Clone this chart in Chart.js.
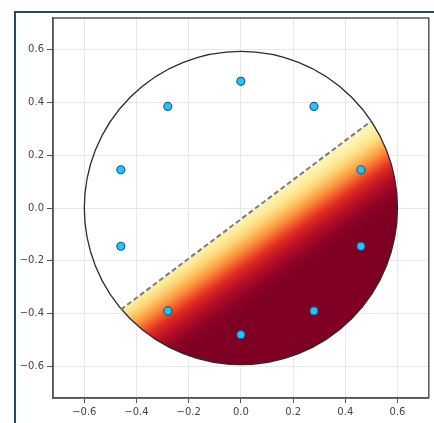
<!DOCTYPE html>
<html lang="en">
<head>
  <meta charset="UTF-8">
  <title>Circle with shaded segment</title>
  <script src="https://cdn.jsdelivr.net/npm/chart.js"></script>
  <style>
    body {
      margin: 0;
      background: #fff;
    }

    #frame {
      position: absolute;
      left: 14px;
      top: 11px;
      width: 420px;
      height: 412px;
      border-left: 2px solid #1f4a69;
      border-top: 2px solid #1f4a69;
    }

    #chart {
      position: absolute;
      left: 0;
      top: 0;
    }
  </style>
</head>
<body>

<div id="frame"></div>
<canvas id="chart" width="434" height="423"></canvas>

<script>
  // Points on the inner ring
  const pointX = [0.0, 0.28, 0.46, 0.46, 0.28, 0.0, -0.28, -0.46, -0.46, -0.28];
  const pointY = [0.48, 0.385, 0.145, -0.145, -0.39, -0.48, -0.39, -0.145, 0.145, 0.385];

  // Outer circle
  const circleCenter = [0.0, 0.0];
  const circleRadius = 0.6;

  // Dashed chord (start, end) - shading is on the lower right side
  const chordX = [-0.46, 0.50];
  const chordY = [-0.385, 0.33];

  // Axis ticks
  const xTicks = [-0.6, -0.4, -0.2, 0.0, 0.2, 0.4, 0.6];
  const yTicks = [-0.6, -0.4, -0.2, 0.0, 0.2, 0.4, 0.6];
  const axisMin = -0.72;
  const axisMax = 0.72;

  // YlOrRd-ish colour stops, by distance from chord (data units)
  const shadeDist = [0.0, 0.03, 0.055, 0.08, 0.105, 0.13, 0.16, 0.2, 0.25, 0.3];
  const shadeColors = ['#fff4b5', '#feea98', '#fed577', '#fdb456', '#fc8c3c', '#f45a2c', '#dd2a22', '#b80f26', '#8e0326', '#7f0022'];
  const shadeTiltDeg = 2; // colour bands are a touch steeper than the chord

  function fmtTick(v) {
    const s = v.toFixed(1);
    return s.startsWith('-') ? '\u2212' + s.slice(1) : s;
  }

  const shapePlugin = {
    id: 'shape',
    beforeDatasetsDraw(chart) {
      const { ctx, chartArea, scales: { x, y } } = chart;
      const cx = x.getPixelForValue(circleCenter[0]);
      const cy = y.getPixelForValue(circleCenter[1]);
      const r = x.getPixelForValue(circleRadius) - x.getPixelForValue(0);

      const ax = x.getPixelForValue(chordX[0]), ay = y.getPixelForValue(chordY[0]);
      const bx = x.getPixelForValue(chordX[1]), by = y.getPixelForValue(chordY[1]);
      const len = Math.hypot(bx - ax, by - ay);
      const ux = (bx - ax) / len, uy = (by - ay) / len;
      // normal pointing to lower right (screen coords)
      const nx = -uy, ny = ux;
      const unitPx = x.getPixelForValue(1) - x.getPixelForValue(0);

      ctx.save();
      ctx.beginPath();
      ctx.arc(cx, cy, r, 0, Math.PI * 2);
      ctx.clip();
      const big = 2000;
      ctx.beginPath();
      ctx.moveTo(ax - ux * big, ay - uy * big);
      ctx.lineTo(bx + ux * big, by + uy * big);
      ctx.lineTo(bx + ux * big + nx * big, by + uy * big + ny * big);
      ctx.lineTo(ax - ux * big + nx * big, ay - uy * big + ny * big);
      ctx.closePath();
      ctx.clip();

      const t = shadeTiltDeg * Math.PI / 180;
      const gx = nx * Math.cos(t) - ny * Math.sin(t);
      const gy = nx * Math.sin(t) + ny * Math.cos(t);
      const mx = (ax + bx) / 2, my = (ay + by) / 2;
      const maxD = shadeDist[shadeDist.length - 1];
      const grad = ctx.createLinearGradient(mx, my, mx + gx * maxD * unitPx, my + gy * maxD * unitPx);
      shadeDist.forEach((d, i) => grad.addColorStop(d / maxD, shadeColors[i]));
      ctx.fillStyle = grad;
      ctx.fillRect(chartArea.left, chartArea.top, chartArea.width, chartArea.height);
      ctx.restore();

      // circle outline
      ctx.save();
      ctx.beginPath();
      ctx.arc(cx, cy, r, 0, Math.PI * 2);
      ctx.strokeStyle = '#2b2b2b';
      ctx.lineWidth = 1.3;
      ctx.stroke();

      // dashed chord
      ctx.beginPath();
      ctx.moveTo(ax, ay);
      ctx.lineTo(bx, by);
      ctx.setLineDash([5, 3]);
      ctx.strokeStyle = '#7a7a7a';
      ctx.lineWidth = 2;
      ctx.stroke();
      ctx.restore();
    },
    afterDraw(chart) {
      const { ctx, chartArea } = chart;
      ctx.save();
      ctx.strokeStyle = '#555';
      ctx.lineWidth = 1.5;
      ctx.strokeRect(chartArea.left, chartArea.top, chartArea.width, chartArea.height);
      ctx.restore();
    }
  };

  const ctx = document.getElementById('chart').getContext('2d');
  const chart = new Chart(ctx, {
    type: 'scatter',
    data: {
      datasets: [{
        data: pointX.map((v, i) => ({ x: v, y: pointY[i] })),
        backgroundColor: '#22c6f2',
        borderColor: '#1a5c9a',
        borderWidth: 1.2,
        pointRadius: 4
      }]
    },
    options: {
      responsive: false,
      animation: false,
      layout: { padding: { top: 18, right: 2, left: 0, bottom: 0 } },
      plugins: {
        legend: { display: false },
        tooltip: { enabled: false }
      },
      scales: {
        x: {
          min: axisMin,
          max: axisMax,
          afterBuildTicks: s => { s.ticks = xTicks.map(v => ({ value: v })); },
          afterFit: s => { s.height = 25; s.paddingLeft = 0; s.paddingRight = 0; },
          ticks: {
            callback: v => fmtTick(v),
            color: '#444',
            font: { family: 'DejaVu Sans', size: 10 },
            padding: 3,
            maxRotation: 0
          },
          grid: { color: '#e8e8e8', tickColor: '#555', tickLength: 5 },
          border: { color: '#555', width: 1.5 }
        },
        y: {
          min: axisMin,
          max: axisMax,
          afterBuildTicks: s => { s.ticks = yTicks.map(v => ({ value: v })); },
          afterFit: s => { s.width = 53; s.paddingTop = 0; s.paddingBottom = 0; },
          ticks: {
            callback: v => fmtTick(v),
            color: '#444',
            font: { family: 'DejaVu Sans', size: 10 },
            padding: 3
          },
          grid: { color: '#e8e8e8', tickColor: '#555', tickLength: 6 },
          border: { color: '#555', width: 1.5 }
        }
      }
    },
    plugins: [shapePlugin]
  });
</script>

</body>
</html>
